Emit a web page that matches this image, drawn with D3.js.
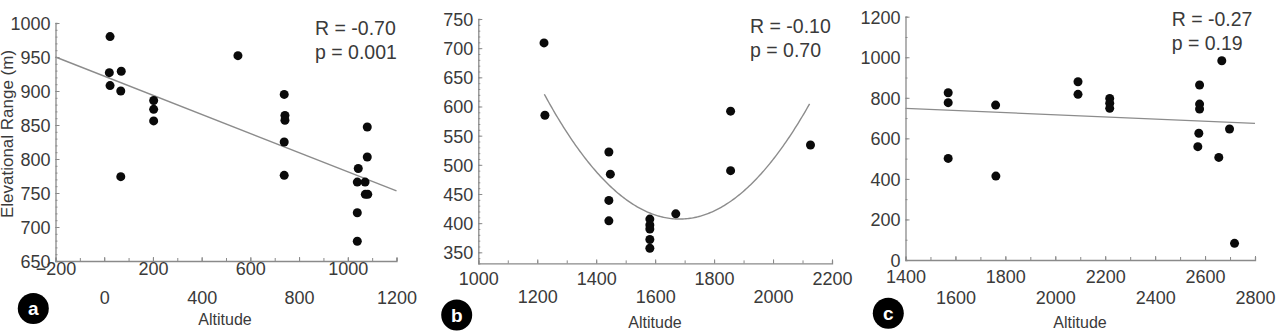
<!DOCTYPE html>
<html>
<head>
<meta charset="utf-8">
<script src="https://cdn.jsdelivr.net/npm/d3@7"></script>
<style>
  body { margin: 0; background: #fff; }
  svg { display: block; font-family: "Liberation Sans", Arial, sans-serif; }
</style>
</head>
<body>
<div id="chart"></div>
<script>
// DATA
// panel a
const altA   = [24, 21, 24, 70, 68, 203, 203, 203, 549, 739, 742, 742, 739, 1080, 1080, 1043, 68, 739, 1039, 1071, 1072, 1082, 1039, 1039]
const rangeA = [980, 927, 908, 929, 900, 886, 873, 856, 952, 895, 864, 857, 825, 847, 803, 786, 774, 776, 766, 766, 748, 748, 721, 679]
const fitA = { x: [-200, 1200], y: [950, 753] }
const statsA = ["R = -0.70", "p = 0.001"]

// panel b
const altB   = [1223, 1226, 1443, 1856, 2127, 1448, 1443, 1443, 1582, 1582, 1582, 1582, 1582, 1670, 1856]
const rangeB = [709, 585, 522, 592, 534, 484, 439, 404, 407, 397, 390, 372, 357, 416, 490]
const fitB = { a: 0.001016, h: 1683, k: 407, from: 1224, to: 2127 } // quadratic fit
const statsB = ["R = -0.10", "p = 0.70"]

// panel c
const altC   = [1571, 1571, 1571, 1761, 2091, 2091, 2218, 2218, 2218, 2578, 2578, 2578, 2575, 2571, 2667, 2655, 2698, 1762, 2718]
const rangeC = [825, 776, 501, 764, 879, 817, 797, 773, 748, 863, 769, 745, 625, 559, 983, 506, 646, 414, 82]
const fitC = { x: [1400, 2800], y: [748, 674] }
const statsC = ["R = -0.27", "p = 0.19"]

// TICKS
const xTicksA = [-200, 0, 200, 400, 600, 800, 1000, 1200]
const yTicksA = [650, 700, 750, 800, 850, 900, 950, 1000]
const xTicksB = [1000, 1200, 1400, 1600, 1800, 2000, 2200]
const yTicksB = [350, 400, 450, 500, 550, 600, 650, 700, 750]
const xTicksC = [1400, 1600, 1800, 2000, 2200, 2400, 2600, 2800]
const yTicksC = [0, 200, 400, 600, 800, 1000, 1200]

// DIMENSIONS
const width = 1282
const height = 334
const textColor = "#3a3a3a"
const axisColor = "#8a8a8a"

const wrapper = d3.select("#chart")
  .append("svg")
  .attr("width", width)
  .attr("height", height)

const panels = [
  {
    letter: "a", xs: altA, ys: rangeA, stats: statsA,
    xDomain: [-200, 1200], xRange: [55.5, 396.5],
    yDomain: [650, 1000], yRange: [261, 23],
    xTicks: xTicksA, yTicks: yTicksA, xMinor: 100, yMinor: 10,
    row1: 14, row2: 42.5,
    statsX: 315, statsY: [34.5, 58.5],
    badge: [33.3, 308.5], titleY: 325, titleX: 225,
    fit: fitA,
  },
  {
    letter: "b", xs: altB, ys: rangeB, stats: statsB,
    xDomain: [1000, 2200], xRange: [478.3, 832],
    yDomain: [331, 750], yRange: [263.4, 19],
    xTicks: xTicksB, yTicks: yTicksB, xMinor: 100, yMinor: 10,
    row1: 21.5, row2: 40,
    statsX: 750, statsY: [32.7, 56.7],
    badge: [456.7, 315], titleY: 328.3, titleX: 655,
    fit: fitB,
  },
  {
    letter: "c", xs: altC, ys: rangeC, stats: statsC,
    xDomain: [1400, 2800], xRange: [905.5, 1255],
    yDomain: [0, 1200], yRange: [260, 16.7],
    xTicks: xTicksC, yTicks: yTicksC, xMinor: 100, yMinor: 100,
    row1: 23, row2: 44,
    statsX: 1171.7, statsY: [26, 50],
    badge: [888.3, 313.3], titleY: 328, titleX: 1080,
    fit: fitC,
  },
]

const drawPanel = (p) => {
  const xScale = d3.scaleLinear().domain(p.xDomain).range(p.xRange)
  const yScale = d3.scaleLinear().domain(p.yDomain).range(p.yRange)
  const g = wrapper.append("g").attr("class", `panel-${p.letter}`)
  const x0 = p.xRange[0]
  const y0 = p.yRange[0]

  // minor ticks
  const xMinorTicks = d3.range(p.xDomain[0], p.xDomain[1] + 1, p.xMinor)
  const yStart = Math.ceil(p.yDomain[0] / p.yMinor) * p.yMinor
  const yMinorTicks = d3.range(yStart, p.yDomain[1] + 1, p.yMinor)

  g.append("g")
    .attr("transform", `translate(0,${y0})`)
    .call(d3.axisBottom(xScale).tickValues(xMinorTicks).tickSize(-3).tickFormat(""))
    .call(a => a.select(".domain").attr("stroke", axisColor).attr("stroke-width", 1.3))
    .call(a => a.selectAll(".tick line").attr("stroke", axisColor))

  g.append("g")
    .attr("transform", `translate(${x0},0)`)
    .call(d3.axisLeft(yScale).tickValues(yMinorTicks).tickSize(-2).tickFormat(""))
    .call(a => a.select(".domain").attr("stroke", axisColor).attr("stroke-width", 1.3))
    .call(a => a.selectAll(".tick line").attr("stroke", axisColor))

  // major y ticks with labels
  g.append("g")
    .attr("transform", `translate(${x0},0)`)
    .call(d3.axisLeft(yScale).tickValues(p.yTicks).tickSize(-4).tickPadding(5).tickFormat(d3.format("d")))
    .call(a => a.select(".domain").remove())
    .call(a => a.selectAll(".tick line").attr("stroke", axisColor))
    .call(a => a.selectAll(".tick text")
      .attr("fill", textColor)
      .style("font-size", "18px")
      .attr("dy", "0.36em"))

  // major x ticks, staggered labels
  g.append("g")
    .attr("transform", `translate(0,${y0})`)
    .call(d3.axisBottom(xScale).tickValues(p.xTicks).tickSize(-4).tickFormat(d3.format("d")))
    .call(a => a.select(".domain").remove())
    .call(a => a.selectAll(".tick line").attr("stroke", axisColor))
    .call(a => a.selectAll(".tick text")
      .attr("fill", textColor)
      .style("font-size", "18px")
      .attr("dy", null)
      .attr("y", (d, i) => i % 2 === 0 ? p.row1 : p.row2))

  // fit line / curve
  let fitPoints
  if (p.fit.a !== undefined) {
    const f = p.fit
    fitPoints = d3.range(f.from, f.to + 1, 5).map(x => [x, f.a * (x - f.h) ** 2 + f.k])
  } else {
    fitPoints = p.fit.x.map((x, i) => [x, p.fit.y[i]])
  }
  const line = d3.line()
    .x(d => xScale(d[0]))
    .y(d => yScale(d[1]))
  g.append("path")
    .datum(fitPoints)
    .attr("d", line)
    .attr("fill", "none")
    .attr("stroke", "#8c8c8c")
    .attr("stroke-width", 1.4)

  // points
  g.append("g")
    .selectAll("circle")
    .data(p.xs)
    .join("circle")
      .attr("cx", d => xScale(d))
      .attr("cy", (d, i) => yScale(p.ys[i]))
      .attr("r", 4.5)
      .attr("fill", "#0a0a0a")

  // stats
  g.append("g")
    .selectAll("text")
    .data(p.stats)
    .join("text")
      .attr("x", p.statsX)
      .attr("y", (d, i) => p.statsY[i])
      .attr("fill", textColor)
      .style("font-size", "19.5px")
      .text(d => d)

  // axis title
  g.append("text")
    .attr("x", p.titleX)
    .attr("y", p.titleY)
    .attr("text-anchor", "middle")
    .attr("fill", textColor)
    .style("font-size", "16px")
    .text("Altitude")

  // panel badge
  const badge = g.append("g")
    .attr("transform", `translate(${p.badge[0]},${p.badge[1]})`)
  badge.append("circle")
    .attr("r", 15.5)
    .attr("fill", "#000")
  badge.append("text")
    .attr("text-anchor", "middle")
    .attr("dy", "0.36em")
    .attr("fill", "#fff")
    .style("font-size", "19px")
    .style("font-weight", "bold")
    .text(p.letter)
}

panels.forEach(drawPanel)

// y-axis title (only on panel a, partly cut off on the left)
wrapper.append("text")
  .attr("transform", "translate(13,134) rotate(-90)")
  .attr("text-anchor", "middle")
  .attr("fill", textColor)
  .style("font-size", "17px")
  .text("Elevational Range (m)")
</script>
</body>
</html>
